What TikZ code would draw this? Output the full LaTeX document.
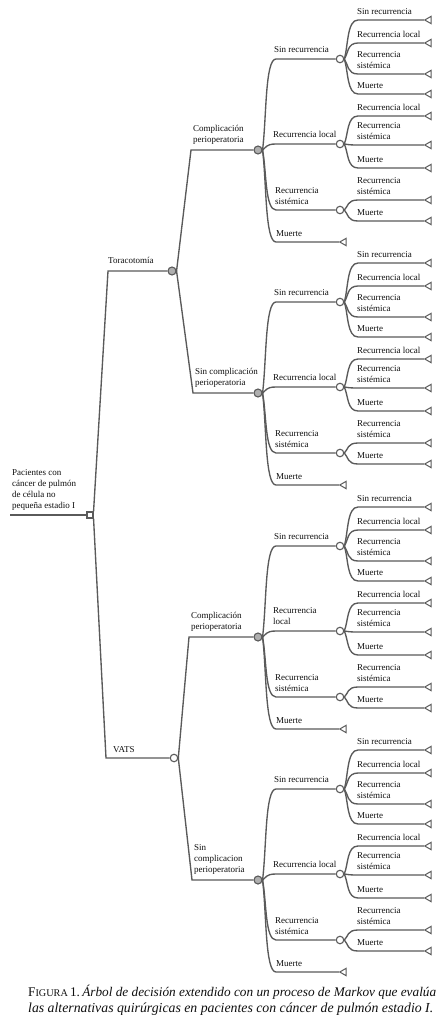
\documentclass[tikz,border=0pt]{standalone}
\usepackage{fontspec}
\setmainfont{Liberation Serif}
\usetikzlibrary{calc,shapes.geometric}
\definecolor{linec}{RGB}{90,90,90}
\definecolor{nodefill}{RGB}{175,175,175}
\definecolor{txt}{RGB}{15,15,15}
\tikzset{
  edge/.style={draw=linec, line width=1.35pt},
  chance/.style={circle, draw=linec, fill=white, line width=1.1pt, minimum size=7.5pt, inner sep=0pt},
  gchance/.style={chance, fill=nodefill, minimum size=8pt},
  term/.style={regular polygon, regular polygon sides=3, shape border rotate=90, draw=linec, fill=white, line width=1pt, minimum size=8.5pt, inner sep=0pt},
  decision/.style={rectangle, draw=linec, fill=white, line width=1.1pt, minimum size=6pt, inner sep=0pt},
  lab/.style={anchor=south west, inner sep=0pt, align=left, text=txt, font=\fontsize{9}{11}\selectfont, execute at end node=\strut},
}
% leaves of a level-3 chance node
\newcommand\mkleaves[2]{%
  \foreach \dd/\lbl [count=\nn] in {#2}{%
    \coordinate (#1k\nn) at ($(#1)+(18,\dd)$);
    \node[term] (#1t\nn) at ($(#1)+(89,\dd)$) {};
    \draw[edge] (#1.east) .. controls +(4,{0.35*\dd}) and +(-11,0) .. (#1k\nn) -- (#1t\nn);
    \node[lab] (#1l\nn) at ($(#1k\nn)+(-1,-2)$) {\lbl};
  }%
}
% a level-2 block: #1 id, #2 parent, #3 y, #4 corner x, #5 label, #6 RL label
\newcommand\mkblock[6]{%
  \coordinate (#1k) at (#4,#3);
  \node[gchance] (#1) at (258,#3) {};
  \draw[edge] (#2.east) -- (#1k) -- (#1);
  \node[lab] (#1lab) at ($(#1k)+(2,-4)$) {#5};
  % level 3
  \node[chance] (#1sr) at (340,#3-91) {};
  \coordinate (#1srk) at (276,#3-91);
  \draw[edge] (#1.east) .. controls +(4,-32) and +(-11,0) .. (#1srk) -- (#1sr);
  \node[lab] (#1srl) at ($(#1srk)+(-2,-3)$) {Sin recurrencia};
  \node[chance] (#1rl) at (340,#3-6) {};
  \coordinate (#1rlk) at (276,#3-6);
  \draw[edge] (#1.east) .. controls +(4,-2) and +(-11,0) .. (#1rlk) -- (#1rl);
  \node[lab] (#1rll) at ($(#1rlk)+(-3,-3)$) {#6};
  \node[chance] (#1rs) at (340,#3+60) {};
  \coordinate (#1rsk) at (276,#3+60);
  \draw[edge] (#1.east) .. controls +(4,21) and +(-11,0) .. (#1rsk) -- (#1rs);
  \node[lab] (#1rsl) at ($(#1rsk)+(-1,-2)$) {Recurrencia\\sistémica};
  \node[term] (#1m) at (344,#3+92) {};
  \coordinate (#1mk) at (276,#3+92);
  \draw[edge] (#1.east) .. controls +(4,32) and +(-11,0) .. (#1mk) -- (#1m);
  \node[lab] (#1ml) at ($(#1mk)+(0,-2)$) {Muerte};
  % level 4
  \mkleaves{#1sr}{-39/{Sin recurrencia}, -16/{Recurrencia local}, 15/{Recurrencia\\sistémica}, 35/{Muerte}}
  \mkleaves{#1rl}{-28/{Recurrencia local}, 1/{Recurrencia\\sistémica}, 24/{Muerte}}
  \mkleaves{#1rs}{-10/{Recurrencia\\sistémica}, 11/{Muerte}}
}
\begin{document}
\begin{tikzpicture}[x=1pt,y=-1pt]
\useasboundingbox[fill=white] (0,0) rectangle (442,1024);
% root
\node[decision] (root) at (90,515) {};
\coordinate (rootk) at (10,515);
\draw[edge] (rootk) -- (root);
\node[lab] (rootl) at (12,512) {Pacientes con\\cáncer de pulmón\\de célula no\\pequeña estadio I};
% level 1
\coordinate (tork) at (108,271);
\node[gchance] (tor) at (172,271) {};
\draw[edge] (root.north east) -- (tork) -- (tor);
\node[lab] (torl) at ($(tork)+(0,-4)$) {Toracotomía};
\coordinate (vatk) at (106,758);
\node[chance] (vat) at (174,758) {};
\draw[edge] (root.south east) -- (vatk) -- (vat);
\node[lab] (vatl) at ($(vatk)+(7,-2)$) {VATS};
% level 2 blocks
\mkblock{A}{tor}{150}{191}{Complicación\\perioperatoria}{Recurrencia local}
\mkblock{B}{tor}{393}{193}{Sin complicación\\perioperatoria}{Recurrencia local}
\mkblock{C}{vat}{637}{189}{Complicación\\perioperatoria}{Recurrencia\\local}
\mkblock{D}{vat}{880}{192}{Sin\\complicacion\\perioperatoria}{Recurrencia local}
% caption
\node[anchor=base west, inner sep=0pt, text=txt] (cap1) at (28,996) {\resizebox{408pt}{!}{\fontsize{13}{15}\selectfont F{\fontsize{10}{12}\selectfont IGURA}\,1.\,\textit{Árbol de decisión extendido con un proceso de Markov que evalúa}}};
\node[anchor=base west, inner sep=0pt, text=txt] (cap2) at (28,1012) {\resizebox{405pt}{!}{\fontsize{13}{15}\selectfont\textit{las alternativas quirúrgicas en pacientes con cáncer de pulmón estadio I.}}};
\end{tikzpicture}
\end{document}
